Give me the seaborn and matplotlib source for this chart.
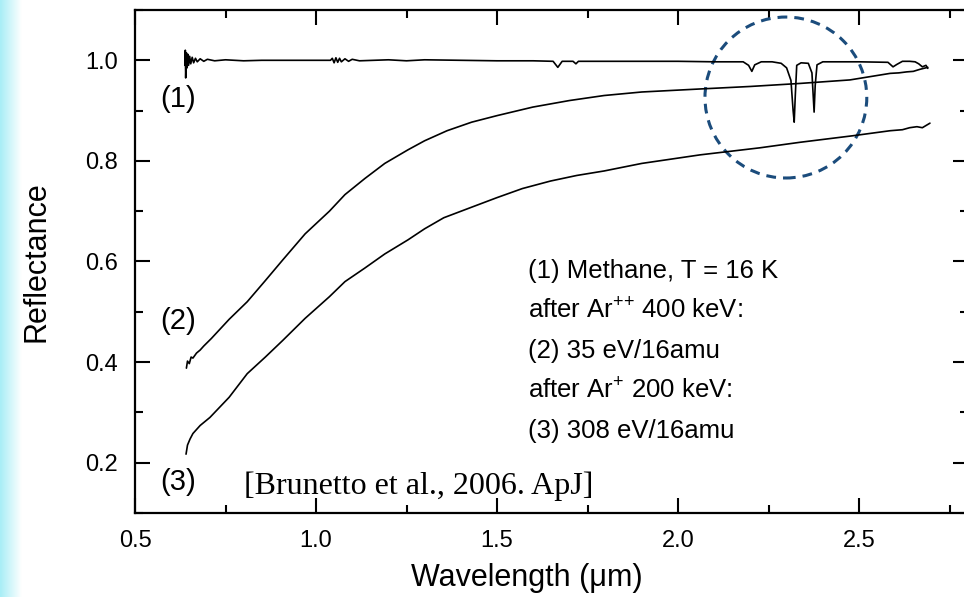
import numpy as np
import pandas as pd
import seaborn as sns
import matplotlib.pyplot as plt
from matplotlib.patches import Ellipse
from matplotlib.ticker import MultipleLocator

# Datos (longitud de onda en um, reflectancia)
wl_1 = [0.638, 0.639, 0.640, 0.642, 0.644, 0.646, 0.648, 0.651, 0.654, 0.658,
        0.662, 0.667, 0.672, 0.680, 0.690, 0.700, 0.720, 0.750, 0.800, 0.850,
        0.950, 1.040, 1.045, 1.050, 1.055, 1.060, 1.065, 1.070, 1.080, 1.090,
        1.100, 1.120, 1.200, 1.250, 1.300, 1.400, 1.500, 1.600, 1.655, 1.668,
        1.680, 1.710, 1.718, 1.725, 1.800, 1.900, 2.000, 2.100, 2.180, 2.195,
        2.204, 2.212, 2.230, 2.260, 2.285, 2.300, 2.312, 2.318, 2.321, 2.324,
        2.328, 2.340, 2.360, 2.370, 2.376, 2.379, 2.384, 2.400, 2.500, 2.580,
        2.594, 2.605, 2.620, 2.640, 2.655, 2.665, 2.675, 2.685, 2.690]
refl_1 = [0.990, 1.020, 0.965, 1.015, 0.985, 1.012, 0.990, 1.008, 0.993, 1.006,
          0.995, 1.004, 0.997, 1.003, 0.998, 1.002, 0.999, 1.001, 0.999, 1.000,
          1.000, 1.000, 1.004, 0.995, 1.005, 0.996, 1.004, 0.997, 1.003, 0.998,
          1.002, 0.999, 1.001, 0.999, 1.001, 1.000, 0.999, 0.999, 0.998, 0.986,
          0.998, 0.998, 0.993, 0.998, 0.998, 0.998, 0.998, 0.997, 0.997, 0.990,
          0.978, 0.991, 0.997, 0.997, 0.994, 0.985, 0.960, 0.900, 0.877, 0.930,
          0.990, 0.995, 0.994, 0.975, 0.897, 0.950, 0.991, 0.997, 0.997, 0.996,
          0.987, 0.992, 0.998, 0.998, 0.997, 0.993, 0.987, 0.990, 0.984]

wl_2 = [0.642, 0.645, 0.650, 0.655, 0.660, 0.670, 0.680, 0.690, 0.711, 0.760,
        0.810, 0.860, 0.908, 0.970, 1.037, 1.080, 1.135, 1.190, 1.254, 1.300,
        1.362, 1.430, 1.500, 1.599, 1.700, 1.796, 1.900, 2.061, 2.200, 2.337,
        2.475, 2.586, 2.610, 2.632, 2.650, 2.668, 2.690]
refl_2 = [0.388, 0.402, 0.397, 0.410, 0.408, 0.418, 0.424, 0.432, 0.447, 0.485,
          0.520, 0.562, 0.603, 0.655, 0.700, 0.733, 0.765, 0.795, 0.822, 0.840,
          0.860, 0.877, 0.890, 0.907, 0.920, 0.930, 0.937, 0.943, 0.948, 0.954,
          0.961, 0.974, 0.975, 0.977, 0.978, 0.982, 0.986]

wl_3 = [0.641, 0.645, 0.652, 0.660, 0.680, 0.707, 0.760, 0.810, 0.860, 0.908,
        0.970, 1.037, 1.080, 1.135, 1.190, 1.254, 1.300, 1.353, 1.430, 1.500,
        1.570, 1.648, 1.720, 1.796, 1.900, 2.061, 2.226, 2.337, 2.483, 2.586,
        2.620, 2.640, 2.660, 2.675, 2.696]
refl_3 = [0.217, 0.235, 0.247, 0.258, 0.274, 0.290, 0.330, 0.377, 0.410, 0.443,
          0.487, 0.530, 0.560, 0.587, 0.615, 0.643, 0.665, 0.687, 0.708, 0.727,
          0.745, 0.760, 0.771, 0.780, 0.795, 0.812, 0.826, 0.837, 0.850, 0.860,
          0.862, 0.866, 0.868, 0.866, 0.875]

leyenda = ["(1) Methane, T = 16 K",
           r"after Ar$^{{+}{+}}$ 400 keV:",
           "(2) 35 eV/16amu",
           r"after Ar$^{{+}}$ 200 keV:",
           "(3) 308 eV/16amu"]
cita = "[Brunetto et al., 2006. ApJ]"

sns.set_style("ticks")
plt.rcParams['font.family'] = ['Liberation Sans', 'DejaVu Sans']
plt.rcParams['mathtext.fontset'] = 'custom'
plt.rcParams['mathtext.rm'] = 'Liberation Sans'
plt.rcParams['text.color'] = 'black'
plt.rcParams['axes.labelcolor'] = 'black'

fig = plt.figure(figsize=(9.64, 5.97), dpi=100)

# franja celeste a la izquierda
ax_bg = fig.add_axes([0, 0, 22 / 964, 1])
grad = np.linspace(0, 1, 50).reshape(1, -1)
ax_bg.imshow(grad, aspect='auto', cmap=sns.blend_palette(['#a8eef6', '#ffffff'], as_cmap=True))
ax_bg.axis('off')

ax = fig.add_axes([135 / 964, 84 / 597, 832.6 / 964, 503 / 597])

for wl, refl in [(wl_1, refl_1), (wl_2, refl_2), (wl_3, refl_3)]:
    df = pd.DataFrame({'wl': wl, 'refl': refl})
    sns.lineplot(data=df, x='wl', y='refl', ax=ax, color='black', lw=1.2,
                 estimator=None, sort=False)

ax.set_xlim(0.5, 2.8)
ax.set_ylim(0.1, 1.1)
ax.xaxis.set_major_locator(MultipleLocator(0.5))
ax.xaxis.set_minor_locator(MultipleLocator(0.25))
ax.yaxis.set_major_locator(MultipleLocator(0.2))
ax.yaxis.set_minor_locator(MultipleLocator(0.1))
ax.xaxis.set_major_formatter(plt.FormatStrFormatter('%.1f'))
ax.yaxis.set_major_formatter(plt.FormatStrFormatter('%.1f'))
ax.tick_params(which='both', direction='in', top=True, right=True, width=1.5,
               labelsize=17, pad=12, colors='black')
ax.tick_params(which='major', length=11)
ax.tick_params(which='minor', length=6)
for s in ax.spines.values():
    s.set_linewidth(1.6)
    s.set_color('black')

ax.set_xlabel("Wavelength (\u03bcm)", fontsize=22)
ax.set_ylabel("Reflectance", fontsize=22)
ax.xaxis.set_label_coords(0.47, -0.100)
ax.yaxis.set_label_coords(-0.100, 0.5)

# etiquetas de las curvas
ax.text(0.569, 0.924, "(1)", fontsize=21, va='center', ha='left')
ax.text(0.569, 0.482, "(2)", fontsize=21, va='center', ha='left')
ax.text(0.569, 0.162, "(3)", fontsize=21, va='center', ha='left')

# texto de leyenda
y_ley = [0.568, 0.488, 0.408, 0.330, 0.250]
for txt, yy in zip(leyenda, y_ley):
    ax.text(1.586, yy, txt, fontsize=18.5, va='baseline', ha='left')

ax.text(0.80, 0.138, cita, fontsize=23, va='baseline', ha='left',
        family='Liberation Serif')

# circulo punteado
circ = Ellipse((2.298, 0.926), 0.447, 0.32, fill=False, edgecolor='#1b4c7c',
               lw=2.2, linestyle=(0, (3.2, 2.3)))
ax.add_patch(circ)

plt.savefig('out.png', dpi=100)
